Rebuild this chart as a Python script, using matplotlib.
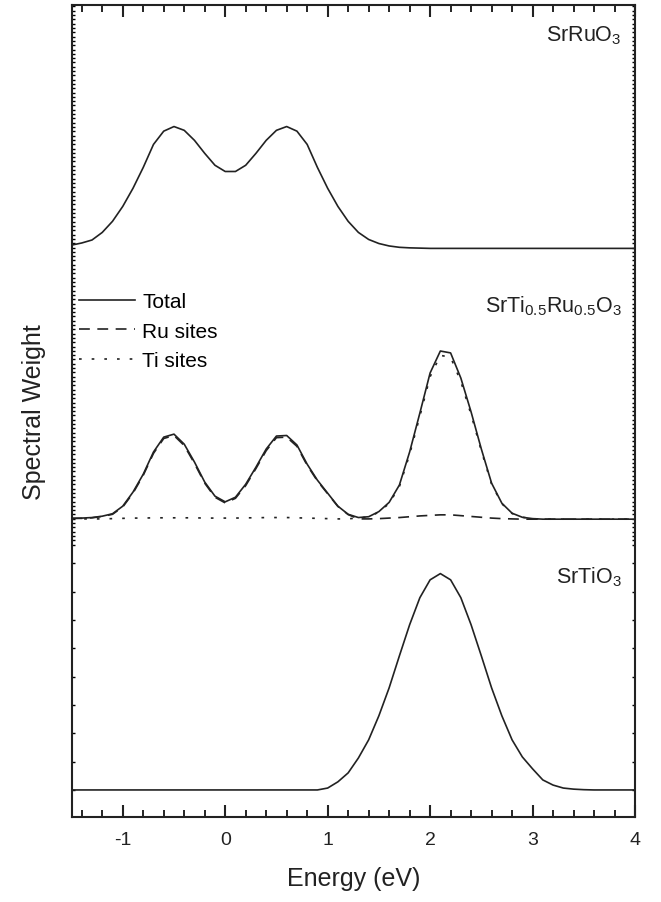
import numpy as np
import matplotlib
matplotlib.use("Agg")
import matplotlib.pyplot as plt

plt.rcParams['font.family'] = ['Liberation Sans', 'DejaVu Sans']
plt.rcParams['mathtext.fontset'] = 'custom'
plt.rcParams['mathtext.rm'] = 'Liberation Sans'
plt.rcParams['mathtext.it'] = 'Liberation Sans:italic'
plt.rcParams['mathtext.bf'] = 'Liberation Sans:bold'

# energy grid (eV)
energy = [-1.5, -1.4, -1.3, -1.2, -1.1, -1.0, -0.9, -0.8, -0.7, -0.6,
          -0.5, -0.4, -0.3, -0.2, -0.1, 0.0, 0.1, 0.2, 0.3, 0.4,
          0.5, 0.6, 0.7, 0.8, 0.9, 1.0, 1.1, 1.2, 1.3, 1.4,
          1.5, 1.6, 1.7, 1.8, 1.9, 2.0, 2.1, 2.2, 2.3, 2.4,
          2.5, 2.6, 2.7, 2.8, 2.9, 3.0, 3.1, 3.2, 3.3, 3.4,
          3.5, 3.6, 3.7, 3.8, 3.9, 4.0]

# SrRuO3 total
sr_ru_o3 = [0.012, 0.020, 0.031, 0.059, 0.100, 0.155, 0.222, 0.299, 0.384, 0.433,
            0.450, 0.436, 0.399, 0.351, 0.307, 0.284, 0.284, 0.307, 0.351, 0.399,
            0.436, 0.450, 0.433, 0.384, 0.299, 0.222, 0.155, 0.100, 0.059, 0.033,
            0.018, 0.009, 0.004, 0.002, 0.001] + [0.0] * 21

# SrTi0.5Ru0.5O3: total, Ru sites, Ti sites
mix_total = [0.003, 0.004, 0.006, 0.011, 0.020, 0.048, 0.100, 0.166, 0.248, 0.303,
             0.314, 0.277, 0.211, 0.137, 0.085, 0.064, 0.081, 0.129, 0.192, 0.259,
             0.307, 0.309, 0.274, 0.203, 0.144, 0.096, 0.048, 0.018, 0.006, 0.009,
             0.028, 0.062, 0.126, 0.248, 0.392, 0.540, 0.621, 0.614, 0.521, 0.396,
             0.259, 0.133, 0.059, 0.022, 0.007, 0.002] + [0.0] * 10
mix_ru = [0.003, 0.003, 0.005, 0.010, 0.018, 0.045, 0.096, 0.162, 0.243, 0.298,
          0.309, 0.272, 0.206, 0.133, 0.081, 0.060, 0.077, 0.124, 0.187, 0.253,
          0.301, 0.303, 0.269, 0.199, 0.141, 0.094, 0.047, 0.017, 0.001, 0.001,
          0.002, 0.004, 0.006, 0.009, 0.012, 0.014, 0.016, 0.016, 0.013, 0.010,
          0.007, 0.004, 0.002, 0.001, 0.0, 0.0] + [0.0] * 10
mix_ti = [0.0, 0.001, 0.001, 0.001, 0.002, 0.003, 0.004, 0.004, 0.005, 0.005,
          0.005, 0.005, 0.005, 0.004, 0.004, 0.004, 0.004, 0.005, 0.005, 0.006,
          0.006, 0.006, 0.005, 0.004, 0.003, 0.002, 0.001, 0.001, 0.005, 0.008,
          0.026, 0.058, 0.120, 0.239, 0.380, 0.526, 0.605, 0.598, 0.508, 0.386,
          0.252, 0.129, 0.057, 0.021, 0.007, 0.002] + [0.0] * 10

# SrTiO3 total
sr_ti_o3 = [0.0] * 25 + [0.007, 0.030, 0.063, 0.118, 0.185, 0.274, 0.377, 0.495, 0.610, 0.710,
                         0.776, 0.799, 0.776, 0.710, 0.610, 0.495, 0.377, 0.274, 0.185, 0.122,
                         0.078, 0.037, 0.018, 0.007, 0.003, 0.001] + [0.0] * 5

offsets = [2.0, 1.0, 0.0]
labels = [r"SrRuO$_3$", r"SrTi$_{0.5}$Ru$_{0.5}$O$_3$", r"SrTiO$_3$"]
label_y = [2.79, 1.79, 0.79]

lw = 1.2
fig = plt.figure(figsize=(6.61, 9.03), dpi=100)
ax = fig.add_axes([0.1082, 0.0941, 0.8525, 0.8996])

x = np.array(energy)
ax.plot(x, np.array(sr_ru_o3) + offsets[0], color="#222222", lw=lw)
ax.plot(x, np.array(mix_total) + offsets[1], color="#222222", lw=lw, label="Total")
ax.plot(x, np.array(mix_ru) + offsets[1], color="#222222", lw=lw,
        linestyle=(0, (6.5, 4.5)), label="Ru sites")
ax.plot(x, np.array(mix_ti) + offsets[1], color="#222222", lw=lw,
        linestyle=(0, (1.6, 6.0)), label="Ti sites")
ax.plot(x, np.array(sr_ti_o3) + offsets[2], color="#222222", lw=lw)

for lab, yy in zip(labels, label_y):
    ax.text(3.87, yy, lab, ha="right", va="center", fontsize=15.5, color="#222222")

ax.legend(loc="upper left", bbox_to_anchor=(0.013, 0.646), frameon=False,
          fontsize=15, handlelength=2.7, handletextpad=0.35, labelspacing=0.5,
          borderpad=0, borderaxespad=0)

ax.set_xlim(-1.5, 4)
ax.set_ylim(-0.1, 2.9)
ax.set_xticks([-1, 0, 1, 2, 3, 4])
ax.set_xticklabels(["-1", "0", "1", "2", "3", "4"])
ax.set_xticks(np.arange(-1.4, 4.01, 0.2), minor=True)
yminor = list(np.arange(0, 0.85, 0.1046)) + list(np.arange(0.906, 2.9, 0.0159))
ax.set_yticks([])
ax.set_yticks(yminor, minor=True)

ax.tick_params(axis="x", which="major", direction="in", length=8.5, width=1.5,
               top=True, labelsize=14, pad=10, colors="#222222")
ax.tick_params(axis="x", which="minor", direction="in", length=5, width=1.2, top=True)
ax.tick_params(axis="y", which="minor", direction="in", length=2, width=1, right=True)
for s in ax.spines.values():
    s.set_linewidth(1.5)
    s.set_color("#222222")

ax.set_xlabel("Energy (eV)", fontsize=18, labelpad=13, color="#222222")
ax.set_ylabel("Spectral Weight", fontsize=18, labelpad=15, color="#222222")

plt.savefig("out.png", dpi=100)
